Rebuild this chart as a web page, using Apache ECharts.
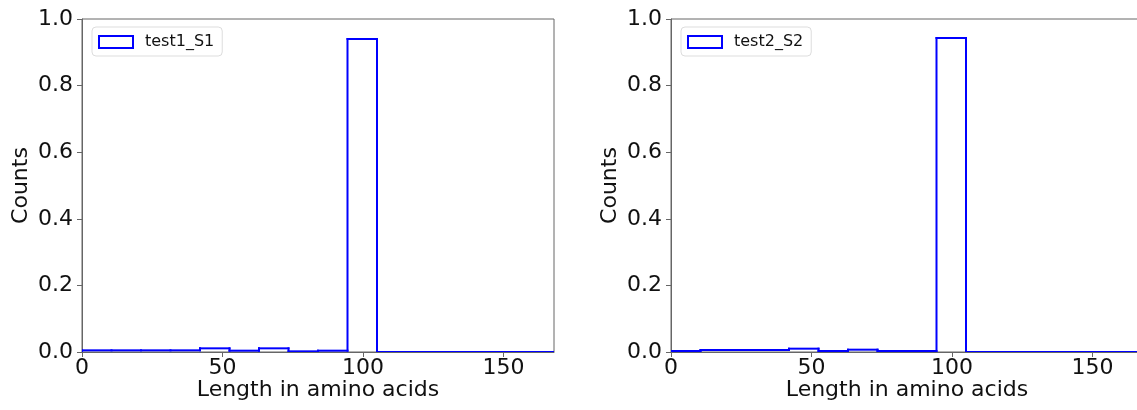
<!DOCTYPE html>
<html>
<head>
<meta charset="utf-8">
<script src="https://cdn.jsdelivr.net/npm/echarts@6/dist/echarts.min.js"></script>
<style>
html,body{margin:0;padding:0;background:#fff;}
#chart{width:1137px;height:410px;}
</style>
</head>
<body>
<div id="chart"></div>
<script>
// Histogram bins (start of each bin), width 10.5
const binStarts = [0, 10.5, 21, 31.5, 42, 52.5, 63, 73.5, 84, 94.5, 105, 115.5, 126, 136.5, 147, 157.5];
const binWidth = 10.5;
const xMax = 168;
const seriesNames = ['test1_S1', 'test2_S2'];
const values1 = [0.005, 0.005, 0.005, 0.005, 0.011, 0.004, 0.011, 0.002, 0.004, 0.940, 0, 0, 0, 0, 0, 0];
const values2 = [0.003, 0.006, 0.006, 0.006, 0.010, 0.003, 0.007, 0.003, 0.003, 0.943, 0, 0, 0, 0, 0, 0];
const xTicks = [0, 50, 100, 150];
const yTicks = [0, 0.2, 0.4, 0.6, 0.8, 1.0];

// each item: [binStart, binEnd, value, previous value, next value (last bin only)]
function binData(vals) {
  return binStarts.map((s, i) => [s, s + binWidth, vals[i], i === 0 ? 0 : vals[i - 1],
    i === vals.length - 1 ? 0 : vals[i]]);
}

const FONT = 'DejaVu Sans';
const axisColor = '#666';
const blue = '#0000ff';

function renderStep(params, api) {
  const x0 = api.value(0), x1 = api.value(1), v = api.value(2), pv = api.value(3), nv = api.value(4);
  const a = api.coord([x0, pv]), b = api.coord([x0, v]), c = api.coord([x1, v]), d = api.coord([x1, nv]);
  const st = {stroke: blue, lineWidth: 2, lineCap: 'square', fill: null};
  const children = [];
  if (pv !== v) children.push({type: 'line', shape: {x1: a[0], y1: a[1], x2: b[0], y2: b[1]}, style: st});
  children.push({type: 'line', shape: {x1: b[0], y1: b[1], x2: c[0], y2: c[1]}, style: st});
  if (nv !== v) children.push({type: 'line', shape: {x1: c[0], y1: c[1], x2: d[0], y2: d[1]}, style: st});
  return {type: 'group', children: children};
}

function xAxis(idx) {
  return {
    type: 'value', gridIndex: idx, min: 0, max: xMax,
    name: 'Length in amino acids', nameLocation: 'middle', nameGap: 27, nameMoveOverlap: false,
    nameTextStyle: {fontFamily: FONT, fontSize: 22, color: '#111'},
    axisLine: {show: true, lineStyle: {color: axisColor, width: 1}},
    axisTick: {show: true, inside: false, length: 5, lineStyle: {color: axisColor}, customValues: xTicks},
    axisLabel: {fontFamily: FONT, fontSize: 22, color: '#111', margin: 5, customValues: xTicks},
    splitLine: {show: false}
  };
}
function yAxis(idx) {
  return {
    type: 'value', gridIndex: idx, min: 0, max: 1, interval: 0.2,
    name: 'Counts', nameLocation: 'middle', nameGap: 50, nameMoveOverlap: false,
    nameTextStyle: {fontFamily: FONT, fontSize: 22, color: '#111'},
    axisLine: {show: true, lineStyle: {color: axisColor, width: 1}},
    axisTick: {show: true, inside: false, length: 5, lineStyle: {color: axisColor}, customValues: yTicks},
    axisLabel: {fontFamily: FONT, fontSize: 22, color: '#111', margin: 9, customValues: yTicks,
      formatter: v => Number(v).toFixed(1)},
    splitLine: {show: false}
  };
}
function legend(idx, left) {
  return {
    data: [{name: seriesNames[idx], icon: 'rect',
      itemStyle: {color: '#fff', borderColor: blue, borderWidth: 2}}],
    left: left, top: 27, orient: 'vertical',
    itemWidth: 34, itemHeight: 12,
    padding: [7, 8, 6, 6],
    backgroundColor: '#fff', borderColor: '#ddd', borderWidth: 1, borderRadius: 4,
    textStyle: {fontFamily: FONT, fontSize: 16, color: '#111', padding: [0, 0, 0, 7]},
    selectedMode: false
  };
}

const chart = echarts.init(document.getElementById('chart'), null, {renderer: 'canvas'});
chart.setOption({
  animation: false,
  backgroundColor: '#fff',
  grid: [
    {left: 82, top: 19, width: 472, height: 333, outerBoundsMode: 'none', containLabel: false,
     show: true, borderColor: axisColor, borderWidth: 1, backgroundColor: 'transparent'},
    {left: 671, top: 19, width: 472, height: 333, outerBoundsMode: 'none', containLabel: false,
     show: true, borderColor: axisColor, borderWidth: 1, backgroundColor: 'transparent'}
  ],
  xAxis: [xAxis(0), xAxis(1)],
  yAxis: [yAxis(0), yAxis(1)],
  legend: [legend(0, 92), legend(1, 681)],
  series: [
    {name: seriesNames[0], type: 'custom', xAxisIndex: 0, yAxisIndex: 0, clip: true,
     renderItem: renderStep, data: binData(values1), itemStyle: {color: blue},
     encode: {x: [0, 1], y: 2}},
    {name: seriesNames[1], type: 'custom', xAxisIndex: 1, yAxisIndex: 1, clip: true,
     renderItem: renderStep, data: binData(values2), itemStyle: {color: blue},
     encode: {x: [0, 1], y: 2}}
  ]
});
</script>
</body>
</html>
